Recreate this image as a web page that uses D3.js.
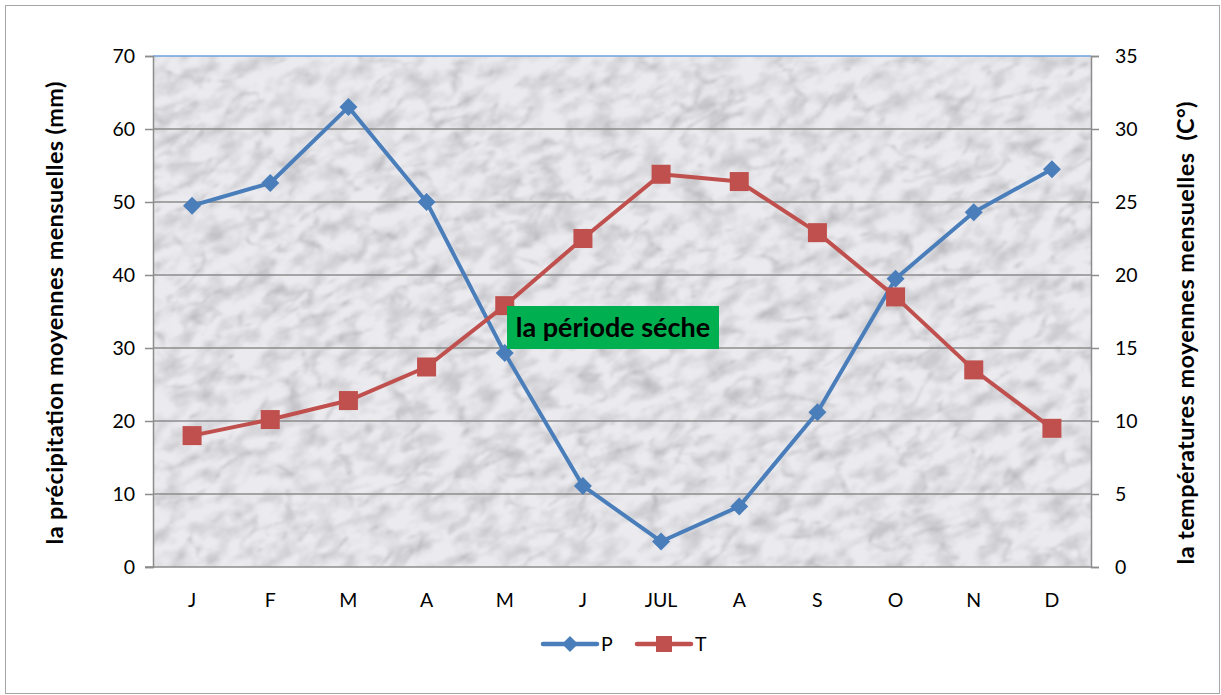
<!DOCTYPE html>
<html>
<head>
<meta charset="utf-8">
<script src="https://cdn.jsdelivr.net/npm/d3@7"></script>
<style>
  html, body { margin: 0; padding: 0; background: #fff; }
  svg { display: block; font-family: Lato, "Open Sans", sans-serif; }
</style>
</head>
<body>
<svg id="chart" width="1221" height="695"></svg>
<script>
// Monthly climate data
const months = ["J", "F", "M", "A", "M", "J", "JUL", "A", "S", "O", "N", "D"];
const precipitation = [49.5, 52.6, 63, 50, 29.3, 11.1, 3.5, 8.3, 21.2, 39.5, 48.6, 54.5];
const temperature = [9.0, 10.1, 11.4, 13.7, 17.9, 22.5, 26.9, 26.4, 22.9, 18.5, 13.5, 9.5];
const leftTicks = [0, 10, 20, 30, 40, 50, 60, 70];
const rightTicks = [0, 5, 10, 15, 20, 25, 30, 35];
const seriesNames = ["P", "T"];
const annotation = "la période séche";

const W = 1221, H = 695;
const plot = { left: 153, right: 1091, top: 56, bottom: 567 };
const blue = "#4a7ebb", red = "#c0504d", gridCol = "#8c8c8c";

const svg = d3.select("#chart");

// chart frame
svg.append("rect").attr("x", 5.5).attr("y", 5.5).attr("width", W - 7).attr("height", H - 7)
  .attr("fill", "#fff").attr("stroke", "#a6a6a6").attr("stroke-width", 1);

const x = d3.scaleBand().domain(d3.range(months.length)).range([plot.left, plot.right]);
const yL = d3.scaleLinear().domain([0, 70]).range([plot.bottom, plot.top]);
const yR = d3.scaleLinear().domain([0, 35]).range([plot.bottom, plot.top]);

// marble texture for the plot area
const defs = svg.append("defs");
const f = defs.append("filter").attr("id", "marble")
  .attr("x", 0).attr("y", 0).attr("width", 1).attr("height", 1)
  .attr("filterUnits", "objectBoundingBox");
f.append("feTurbulence").attr("type", "fractalNoise").attr("baseFrequency", "0.008 0.016")
  .attr("numOctaves", 3).attr("seed", 7).attr("result", "warp");
f.append("feTurbulence").attr("type", "turbulence").attr("baseFrequency", "0.016 0.032")
  .attr("numOctaves", 5).attr("seed", 3).attr("result", "turb");
f.append("feDisplacementMap").attr("in", "turb").attr("in2", "warp").attr("scale", 45)
  .attr("xChannelSelector", "R").attr("yChannelSelector", "G").attr("result", "veins0");
f.append("feColorMatrix").attr("in", "veins0").attr("type", "matrix")
  .attr("values", "0 0 0 0 0.4  0 0 0 0 0.4  0 0 0 0 0.43  -3.2 0 0 0 0.68").attr("result", "veins");
f.append("feTurbulence").attr("type", "fractalNoise").attr("baseFrequency", "0.04 0.065")
  .attr("numOctaves", 4).attr("seed", 11).attr("result", "mottle0");
f.append("feColorMatrix").attr("in", "mottle0").attr("type", "matrix")
  .attr("values", "0 0 0 0 0.5  0 0 0 0 0.5  0 0 0 0 0.53  1.8 0 0 0 -0.72").attr("result", "mottle");
f.append("feFlood").attr("flood-color", "#ebebef").attr("result", "base");
f.append("feComposite").attr("in", "mottle").attr("in2", "base").attr("operator", "over").attr("result", "b2");
f.append("feComposite").attr("in", "veins").attr("in2", "b2").attr("operator", "over").attr("result", "b3");
f.append("feGaussianBlur").attr("in", "b3").attr("stdDeviation", 0.9);

const clip = defs.append("clipPath").attr("id", "plotClip");
clip.append("rect").attr("x", plot.left).attr("y", plot.top)
  .attr("width", plot.right - plot.left).attr("height", plot.bottom - plot.top);

svg.append("g").attr("clip-path", "url(#plotClip)")
  .append("rect")
  .attr("transform", `rotate(-25 ${(plot.left + plot.right) / 2} ${(plot.top + plot.bottom) / 2})`)
  .attr("x", plot.left - 250).attr("y", plot.top - 350)
  .attr("width", plot.right - plot.left + 500).attr("height", plot.bottom - plot.top + 700)
  .attr("fill", "#eee").attr("filter", "url(#marble)");

// horizontal gridlines
svg.append("g").selectAll("line").data(leftTicks.slice(1, -1)).join("line")
  .attr("x1", plot.left).attr("x2", plot.right)
  .attr("y1", d => yL(d)).attr("y2", d => yL(d))
  .attr("stroke", gridCol).attr("stroke-width", 1.5);
// top edge of plot area
svg.append("line").attr("x1", plot.left).attr("x2", plot.right)
  .attr("y1", yL(70)).attr("y2", yL(70))
  .attr("stroke", "#6f9fdc").attr("stroke-width", 1.5);

// axes
const axisL = d3.axisLeft(yL).tickValues(leftTicks).tickSize(8).tickPadding(10);
const axisR = d3.axisRight(yR).tickValues(rightTicks).tickSize(8).tickPadding(16);
const axisB = d3.axisBottom(x).tickFormat(i => months[i]).tickSize(0).tickPadding(26);

function styleAxis(g) {
  g.selectAll(".domain").attr("stroke", gridCol).attr("stroke-width", 1.5);
  g.selectAll(".tick line").attr("stroke", gridCol).attr("stroke-width", 1.5);
  g.selectAll("text").attr("fill", "#000").style("font-size", "19.5px")
    .style("font-family", "Lato, 'Open Sans', sans-serif");
}
svg.append("g").attr("transform", `translate(${plot.left},0)`).call(axisL).call(styleAxis);
svg.append("g").attr("transform", `translate(${plot.right},0)`).call(axisR).call(styleAxis);
svg.append("g").attr("transform", `translate(0,${plot.bottom})`).call(axisB).call(styleAxis)
  .call(g => g.select(".domain").remove());
svg.append("line").attr("x1", plot.left - 8).attr("x2", plot.right)
  .attr("y1", plot.bottom).attr("y2", plot.bottom)
  .attr("stroke", gridCol).attr("stroke-width", 1.5);

// axis titles
svg.append("text").attr("transform", "translate(63,313) rotate(-90)")
  .attr("text-anchor", "middle").style("font-size", "23.5px").style("font-weight", "bold")
  .attr("textLength", 463).attr("lengthAdjust", "spacing")
  .text("la précipitation moyennes mensuelles (mm)");
svg.append("text").attr("transform", "translate(1194,333) rotate(-90)")
  .attr("text-anchor", "middle").style("font-size", "23.5px").style("font-weight", "bold")
  .attr("xml:space", "preserve")
  .attr("textLength", 463).attr("lengthAdjust", "spacing")
  .text("la températures moyennes mensuelles  (C°)");

const cx = i => x(i) + x.bandwidth() / 2;

// series lines
const lineP = d3.line().x((d, i) => cx(i)).y(d => yL(d));
const lineT = d3.line().x((d, i) => cx(i)).y(d => yR(d));
svg.append("path").datum(precipitation).attr("d", lineP)
  .attr("fill", "none").attr("stroke", blue).attr("stroke-width", 4).attr("stroke-linejoin", "round");
svg.append("path").datum(temperature).attr("d", lineT)
  .attr("fill", "none").attr("stroke", red).attr("stroke-width", 4).attr("stroke-linejoin", "round");

function diamondPath(s) {
  return `M0,${-s}L${s},0L0,${s}L${-s},0Z`;
}
svg.append("g").selectAll("path").data(precipitation).join("path")
  .attr("transform", (d, i) => `translate(${cx(i)},${yL(d)})`)
  .attr("d", diamondPath(9)).attr("fill", blue);
svg.append("g").selectAll("rect").data(temperature).join("rect")
  .attr("x", (d, i) => cx(i) - 9.5).attr("y", d => yR(d) - 9.5)
  .attr("width", 19).attr("height", 19).attr("fill", red);

// dry period annotation
const box = svg.append("g").attr("transform", "translate(507,306)");
box.append("rect").attr("width", 212).attr("height", 43).attr("fill", "#00b050");
box.append("text").attr("x", 106).attr("y", 31).attr("text-anchor", "middle")
  .style("font-size", "27px").style("font-weight", "bold").attr("fill", "#000")
  .text(annotation);

// legend
const legend = svg.append("g").attr("transform", "translate(0,644)");
const legItems = [
  { name: seriesNames[0], color: blue, x0: 543, shape: "diamond" },
  { name: seriesNames[1], color: red, x0: 637, shape: "square" }
];
legItems.forEach(it => {
  legend.append("line").attr("x1", it.x0).attr("x2", it.x0 + 54).attr("y1", 0).attr("y2", 0)
    .attr("stroke", it.color).attr("stroke-width", 4.5).attr("stroke-linecap", "round");
  if (it.shape === "diamond") {
    legend.append("path").attr("transform", `translate(${it.x0 + 27},0)`)
      .attr("d", diamondPath(8)).attr("fill", it.color);
  } else {
    legend.append("rect").attr("x", it.x0 + 27 - 8).attr("y", -8).attr("width", 16).attr("height", 16)
      .attr("fill", it.color);
  }
  legend.append("text").attr("x", it.x0 + 58).attr("y", 7).style("font-size", "19.5px")
    .attr("fill", "#000").text(it.name);
});
</script>
</body>
</html>
